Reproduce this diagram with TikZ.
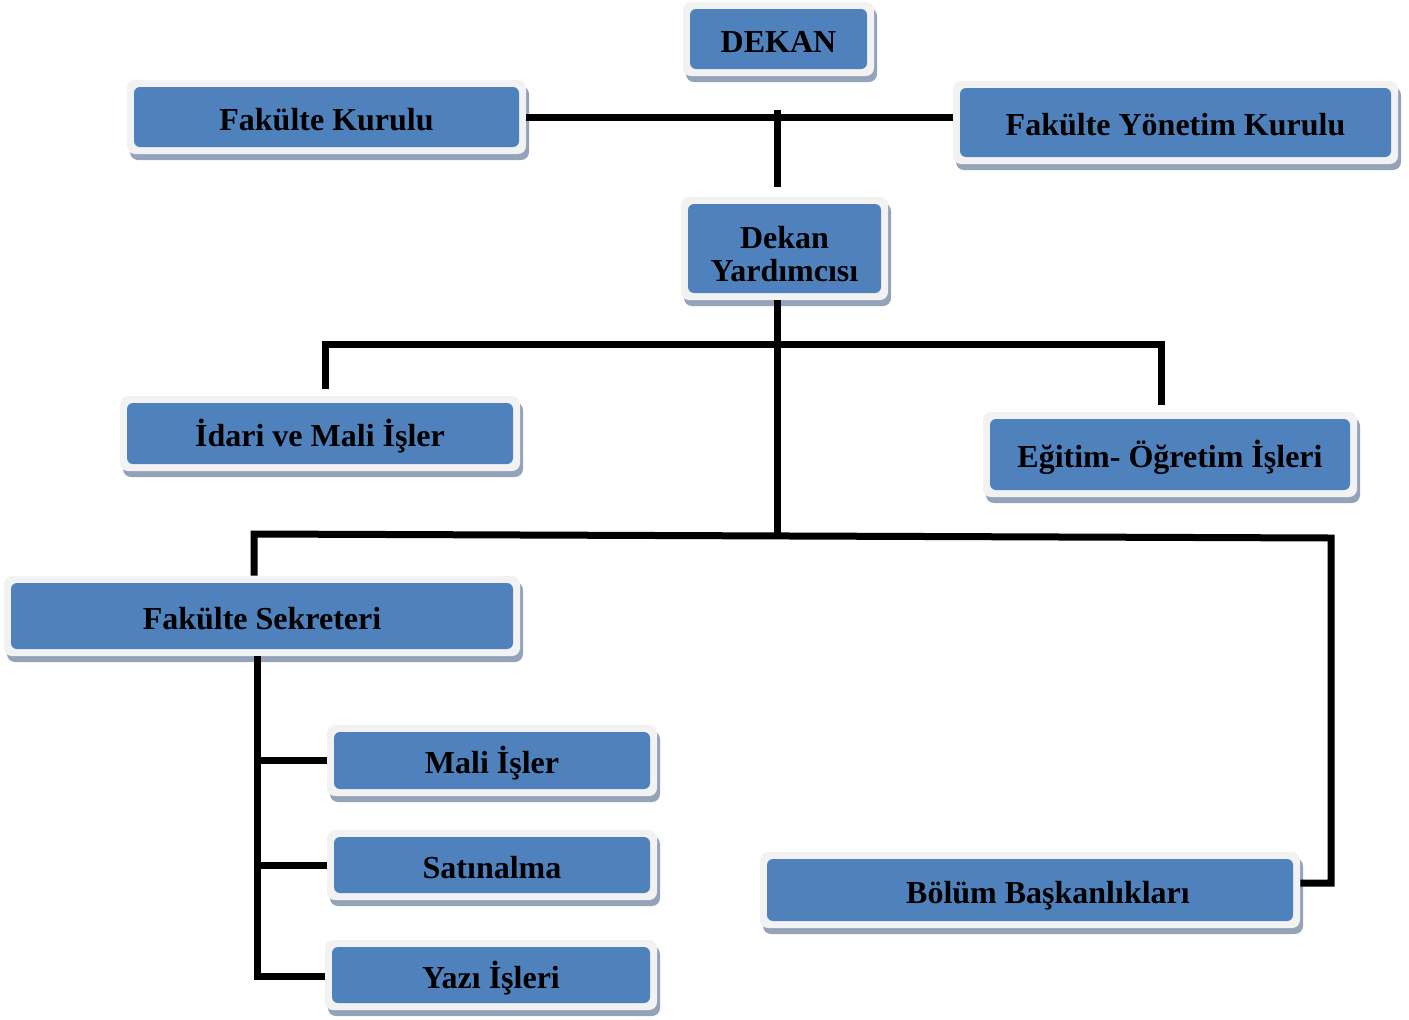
\documentclass[tikz,border=0pt]{standalone}
\usepackage{fontspec}
\setmainfont{Liberation Serif}
\usetikzlibrary{shadows}
\definecolor{boxblue}{HTML}{4F81BD}
\definecolor{boxgray}{HTML}{F2F2F2}
\definecolor{shadowc}{HTML}{94A3B9}
\tikzset{
  orgbox/.style={rounded corners=4pt, fill=boxgray, inner sep=0pt,
    drop shadow={shadow xshift=1.5pt, shadow yshift=-3pt, fill=shadowc, opacity=1},
    font=\fontsize{16}{16.5}\selectfont\bfseries, align=center,
    text height=16pt, text depth=3pt,
    path picture={\fill[boxblue, rounded corners=3pt]
      ([shift={(3.5pt,3.5pt)}]path picture bounding box.south west) rectangle
      ([shift={(-3.5pt,-3.5pt)}]path picture bounding box.north east);}},
  conn/.style={line width=3.5pt, black, line join=miter}
}
\begin{document}
\begin{tikzpicture}[x=0.5pt,y=-0.5pt]
\useasboundingbox (0,0) rectangle (1409,1019);
% boxes
\node[orgbox, minimum width=95.5pt, minimum height=37pt] (dekan) at (778.5,39) {DEKAN};
\node[orgbox, minimum width=199.5pt, minimum height=37pt] (fk) at (326.5,117) {Fakülte Kurulu};
\node[orgbox, minimum width=222.5pt, minimum height=41.5pt] (fyk) at (1175.5,122.5) {Fakülte Yönetim Kurulu};
\node[orgbox, minimum width=103.5pt, minimum height=51.5pt, text height=36pt, text depth=3.5pt] (dy) at (784.5,248.5) {Dekan\\Yardımcısı};
\node[orgbox, minimum width=200pt, minimum height=37.5pt] (idari) at (320,433.5) {İdari ve Mali İşler};
\node[orgbox, minimum width=187pt, minimum height=42.5pt] (egitim) at (1170,454.5) {Eğitim- Öğretim İşleri};
\node[orgbox, minimum width=258pt, minimum height=40pt] (fs) at (262,616) {Fakülte Sekreteri};
\node[orgbox, minimum width=165pt, minimum height=35.5pt] (mali) at (492,760.5) {Mali İşler};
\node[orgbox, minimum width=165pt, minimum height=35pt] (satin) at (492,865) {Satınalma};
\node[orgbox, minimum width=166pt, minimum height=35pt] (yazi) at (491,975) {Yazı İşleri};
\node[orgbox, minimum width=270pt, minimum height=38pt] (bolum) at (1030,890) {\hspace*{18pt}Bölüm Başkanlıkları};
% junction coordinates
\coordinate (t1) at (777,110);
\coordinate (t2) at (777,187);
\coordinate (j1) at (777,344);
\coordinate (j2) at (777,535);
\coordinate (hL) at (325,344);
\coordinate (hR) at (1161,344);
\coordinate (gL) at (254,534);
\coordinate (gR) at (1331,538);
\coordinate (bR) at (1331,883);
\coordinate (s0) at (257,976);
% connectors
\draw[conn] (fk.east) -- (fk.east -| fyk.west);
\draw[conn] (t1) -- (t2);
\draw[conn] (dy.south -| j1) -- (j2);
\draw[conn] ([yshift=3.5pt]idari.north -| hL) -- (hL) -- (hR) -- ([yshift=3.5pt]egitim.north -| hR);
\draw[conn] (fs.north -| gL) -- (gL) -- (gR) -- (bR) -- (bR -| bolum.east);
\draw[conn] (fs.south -| s0) -- (s0) -- (s0 -| yazi.west);
\draw[conn] (mali.west -| s0) -- (mali.west);
\draw[conn] (satin.west -| s0) -- (satin.west);
\end{tikzpicture}
\end{document}
